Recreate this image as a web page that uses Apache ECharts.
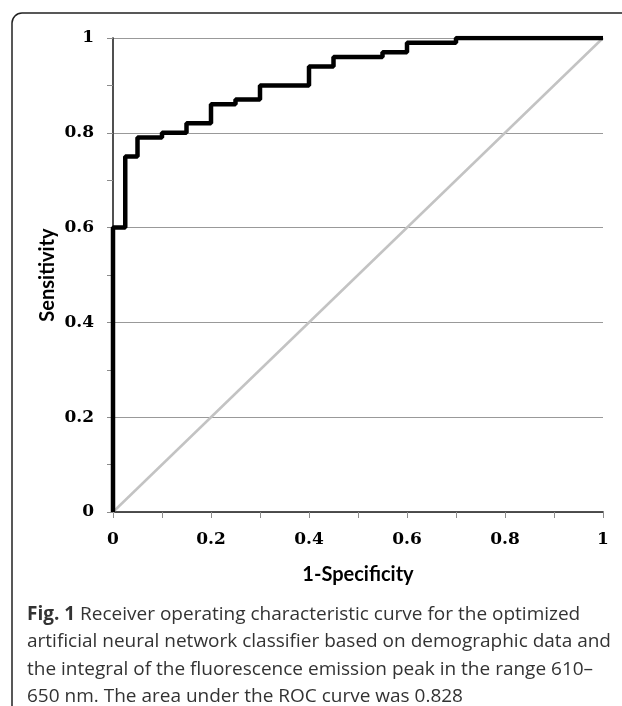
<!DOCTYPE html>
<html>
<head>
<meta charset="utf-8">
<script src="https://cdn.jsdelivr.net/npm/echarts@6/dist/echarts.min.js"></script>
<style>
  html, body { margin: 0; padding: 0; background: #fff; }
  #chart { width: 622px; height: 706px; }
</style>
</head>
<body>
<div id="chart"></div>
<script>
// ROC curve points (1-specificity, sensitivity)
var fpr = [0, 0, 0.025, 0.05, 0.1, 0.15, 0.2, 0.25, 0.3, 0.4, 0.45, 0.55, 0.6, 0.7, 1];
var tpr = [0, 0.6, 0.75, 0.79, 0.80, 0.82, 0.86, 0.87, 0.90, 0.94, 0.96, 0.97, 0.99, 1.0, 1.0];
// reference diagonal
var diagX = [0, 1];
var diagY = [0, 1];

var captionLines = [
    '{b|Fig. 1} Receiver operating characteristic curve for the optimized',
    'artificial neural network classifier based on demographic data and',
    'the integral of the fluorescence emission peak in the range 610\u2013',
    '650 nm. The area under the ROC curve was 0.828'
];

var rocData = fpr.map(function (x, i) { return [x, tpr[i]]; });
var diagData = diagX.map(function (x, i) { return [x, diagY[i]]; });

var chart = echarts.init(document.getElementById('chart'));

var labelFont = {
    fontFamily: 'DejaVu Serif',
    fontWeight: 'bold',
    fontSize: 17,
    color: '#000'
};

var graphics = [{
    type: 'rect',
    shape: { x: 12, y: 13, width: 700, height: 800, r: 10 },
    style: { fill: 'none', stroke: '#222', lineWidth: 1.5 },
    silent: true
}];
captionLines.forEach(function (line, i) {
    graphics.push({
        type: 'text',
        left: 27,
        top: 605 + i * 27.5,
        style: {
            text: line,
            fontFamily: 'Open Sans',
            fontSize: 19,
            fill: '#333',
            rich: {
                b: { fontFamily: 'Open Sans', fontSize: 19, fontWeight: 'bold', fill: '#333' }
            }
        }
    });
});

var option = {
    backgroundColor: '#fff',
    animation: false,
    grid: {
        left: 113,
        right: 19,
        top: 38,
        bottom: 194
    },
    xAxis: [{
        type: 'value',
        min: 0,
        max: 1,
        interval: 0.2,
        name: '1-Specificity',
        nameLocation: 'middle',
        nameGap: 53,
        nameMoveOverlap: false,
        nameTextStyle: { fontFamily: 'Lato', fontWeight: 'bold', fontSize: 20, color: '#000' },
        axisLine: { show: true, lineStyle: { color: '#8c8c8c', width: 1.5 } },
        axisTick: { show: true, length: 6, lineStyle: { color: '#8c8c8c' } },
        minorTick: { show: true, splitNumber: 2, length: 6, lineStyle: { color: '#8c8c8c' } },
        axisLabel: Object.assign({ margin: 19 }, labelFont),
        splitLine: { show: false }
    }, {
        type: 'value',
        position: 'top',
        min: 0,
        max: 1,
        axisLine: { show: true, lineStyle: { color: '#333', width: 1.5 } },
        axisTick: { show: false },
        axisLabel: { show: false },
        splitLine: { show: false }
    }],
    yAxis: [{
        type: 'value',
        min: 0,
        max: 1,
        interval: 0.2,
        name: 'Sensitivity',
        nameLocation: 'middle',
        nameGap: 55,
        nameMoveOverlap: false,
        nameTextStyle: { fontFamily: 'Lato', fontWeight: 'bold', fontSize: 20, color: '#000' },
        axisLine: { show: true, lineStyle: { color: '#8c8c8c', width: 1.5 } },
        axisTick: { show: true, length: 6, lineStyle: { color: '#8c8c8c' } },
        minorTick: { show: true, splitNumber: 2, length: 6, lineStyle: { color: '#8c8c8c' } },
        axisLabel: Object.assign({ margin: 19 }, labelFont),
        splitLine: { show: true, lineStyle: { color: '#999', width: 1 } }
    }, {
        type: 'value',
        position: 'right',
        min: 0,
        max: 1,
        axisLine: { show: true, lineStyle: { color: '#333', width: 1.5 } },
        axisTick: { show: false },
        axisLabel: { show: false },
        splitLine: { show: false }
    }],
    series: [{
        name: 'Reference',
        type: 'line',
        data: diagData,
        showSymbol: false,
        lineStyle: { color: '#c3c3c3', width: 2.5 },
        z: 2
    }, {
        name: 'ROC',
        type: 'line',
        data: rocData,
        step: 'end',
        showSymbol: false,
        lineStyle: { color: '#000', width: 4.5 },
        z: 3
    }],
    graphic: graphics
};
chart.setOption(option);
</script>
</body>
</html>
